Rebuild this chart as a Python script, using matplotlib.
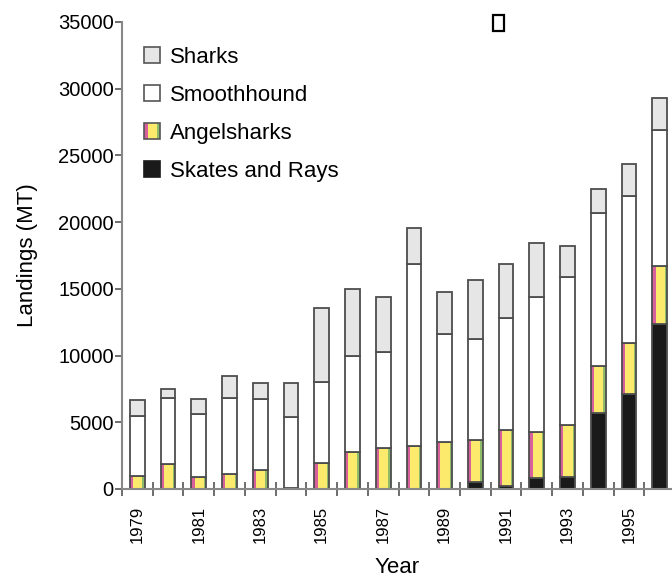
import numpy as np
import matplotlib
matplotlib.use("Agg")
from matplotlib import pyplot as plt
from matplotlib.patches import Rectangle

plt.rcParams['font.family'] = ['Liberation Sans', 'DejaVu Sans']

years = np.arange(1979, 1997)
skates = [0, 0, 0, 0, 0, 100, 0, 0, 0, 0, 0, 500, 200, 800, 900, 5700, 7100, 12400]
angelsharks = [1000, 1850, 900, 1120, 1420, 0, 1970, 2800, 3100, 3200, 3500,
               3200, 4200, 3500, 3880, 3520, 3850, 4320]
smoothhound = [4470, 4990, 4700, 5720, 5300, 5300, 6030, 7170, 7170, 13640, 8100,
               7540, 8420, 10090, 11120, 11500, 11030, 10220]
sharks = [1180, 630, 1150, 1630, 1200, 2520, 5590, 5020, 4120, 2730, 3190,
          4450, 4080, 4010, 2320, 1800, 2390, 2400]
tick_years = [1979, 1981, 1983, 1985, 1987, 1989, 1991, 1993, 1995]

edge = '#4d4d4d'
width = 0.48
# angelshark fill is striped pink / yellow / green across the bar
stripes = [(0.0, 0.22, '#d8609c'), (0.22, 0.84, '#fbea6c'), (0.84, 1.0, '#8dbb6a')]

fig = plt.figure(figsize=(6.72, 5.77), dpi=100)
ax = fig.add_axes([122 / 672, 1 - 489 / 577, 1 - 122 / 672, (489 - 22) / 577])

series = [np.array(skates, float), np.array(angelsharks, float),
          np.array(smoothhound, float), np.array(sharks, float)]
fills = ['#1a1a1a', None, 'white', '#e6e6e6']

bottom = np.zeros(len(years))
for vals, color in zip(series, fills):
    if color is None:
        for f0, f1, c in stripes:
            ax.bar(years - width / 2 + f0 * width, vals, width=(f1 - f0) * width,
                   bottom=bottom, color=c, linewidth=0, align='edge')
    else:
        ax.bar(years, vals, width=width, bottom=bottom, color=color, linewidth=0)
    keep = vals > 0
    ax.bar(years[keep], vals[keep], width=width, bottom=bottom[keep], fill=False,
           edgecolor=edge, linewidth=1.3)
    bottom += vals

ax.set_xlim(1978.5, 1996.4)
ax.set_ylim(0, 35000)
ax.set_yticks(np.arange(0, 35001, 5000))
ax.set_xticks(tick_years)
ax.set_xticks(np.arange(1978.5, 1996.5, 1), minor=True)
ax.set_xticklabels([str(y) for y in tick_years], rotation=90,
                   family=['Liberation Sans Narrow', 'Liberation Sans'], fontsize=12)
ax.tick_params(axis='x', which='major', length=0, pad=12)
ax.tick_params(axis='x', which='minor', direction='inout', length=10, width=1.2, color='#555555')
ax.tick_params(axis='y', direction='out', length=5, width=1.2, color='#555555',
               labelsize=14.5, pad=1)

for side in ['top', 'right']:
    ax.spines[side].set_visible(False)
for side in ['left', 'bottom']:
    ax.spines[side].set_color('#888888')
    ax.spines[side].set_linewidth(1.5)

ax.set_ylabel('Landings (MT)', fontsize=16, labelpad=14)
ax.set_xlabel('Year', fontsize=16, labelpad=10)


class StripeHandler:
    def legend_artist(self, legend, orig_handle, fontsize, handlebox):
        x0, y0 = -handlebox.xdescent, -handlebox.ydescent
        w, h = handlebox.width, handlebox.height
        for f0, f1, c in stripes:
            handlebox.add_artist(Rectangle((x0 + f0 * w, y0), (f1 - f0) * w, h,
                                           facecolor=c, linewidth=0,
                                           transform=handlebox.get_transform()))
        box = Rectangle((x0, y0), w, h, fill=False, edgecolor='#555555', linewidth=1.2,
                        transform=handlebox.get_transform())
        handlebox.add_artist(box)
        return box


handles = [Rectangle((0, 0), 1, 1, facecolor='#e6e6e6', edgecolor='#555555', lw=1.2),
           Rectangle((0, 0), 1, 1, facecolor='white', edgecolor='#555555', lw=1.2),
           Rectangle((0, 0), 1, 1),
           Rectangle((0, 0), 1, 1, facecolor='#1a1a1a', edgecolor='#1a1a1a', lw=1.2)]
labels = ['Sharks', 'Smoothhound', 'Angelsharks', 'Skates and Rays']
ax.legend(handles, labels, loc='upper left', bbox_to_anchor=(0.004, 0.99),
          frameon=False, fontsize=16, handlelength=0.7, handleheight=0.7,
          handletextpad=0.45, labelspacing=0.77,
          handler_map={handles[2]: StripeHandler()})

# small empty box near the top
fig.add_artist(Rectangle((493 / 672, 1 - 31 / 577), 11 / 672, 16 / 577,
                         transform=fig.transFigure, fill=False,
                         edgecolor='black', linewidth=1.6))

fig.savefig('out.png', dpi=100)
